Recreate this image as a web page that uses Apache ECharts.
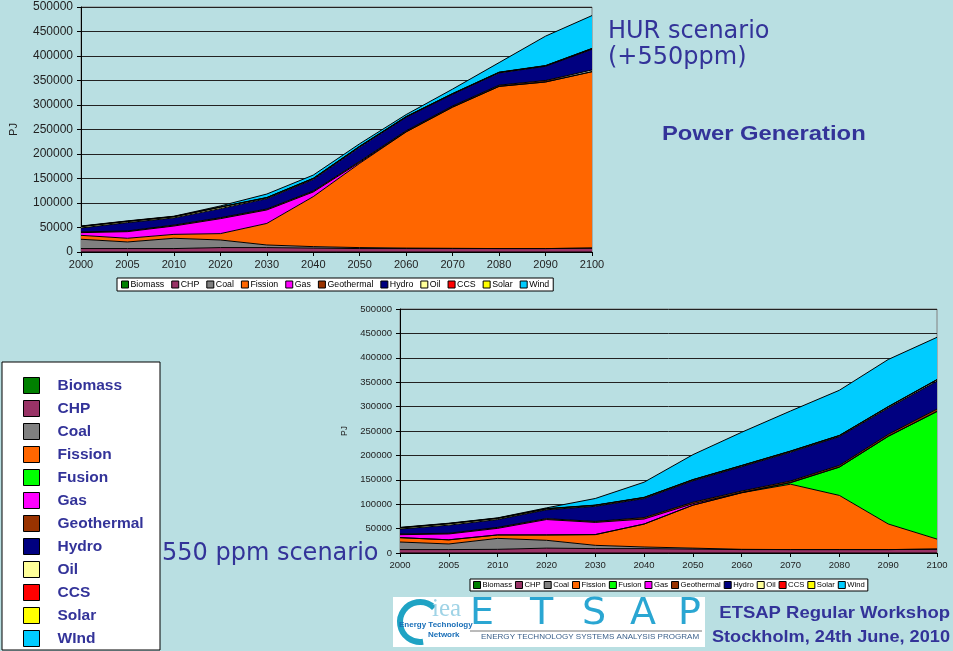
<!DOCTYPE html>
<html>
<head>
<meta charset="utf-8">
<script src="https://cdn.jsdelivr.net/npm/echarts@6/dist/echarts.min.js"></script>
<style>
html,body{margin:0;padding:0;background:#b9dfe2;}
#main{width:953px;height:651px;}
</style>
</head>
<body>
<div id="main"></div>
<script>
// years on both x axes
var years = ['2000','2005','2010','2020','2030','2040','2050','2060','2070','2080','2090','2100'];

// HUR scenario (+550ppm), PJ
var hurBiomass    = [0,0,0,0,0,0,0,0,0,0,0,0];
var hurChp        = [7000,7000,7000,9000,9000,8000,7000,7000,7000,7000,7000,8000];
var hurCoal       = [19000,13500,21000,15500,5300,3000,2000,1000,500,0,0,0];
var hurFission    = [8000,7500,8000,13000,44000,102000,172000,237000,288000,331000,340000,360000];
var hurGas        = [5500,13500,17000,30500,27500,9500,2000,500,500,0,0,0];
var hurGeothermal = [1500,1500,2000,2000,2000,2000,2000,2000,2000,2500,3000,3500];
var hurHydro      = [8000,17000,14500,18500,21000,23500,29000,27500,24000,25000,29000,42000];
var hurOil        = [3000,2500,2500,3000,2000,2000,1500,1000,1000,1000,1000,1500];
var hurCcs        = [0,0,0,0,0,0,0,0,0,0,0,0];
var hurSolar      = [500,500,500,500,500,500,500,500,500,500,500,500];
var hurWind       = [500,500,500,2000,7000,6500,5000,4000,9000,19500,60000,67000];

// 550 ppm scenario, PJ
var ppmBiomass    = [0,0,0,0,0,0,0,0,0,0,0,0];
var ppmChp        = [7000,7000,7500,10000,9000,9000,8000,7000,7000,7000,7000,8000];
var ppmCoal       = [15500,11500,22500,16000,6700,3300,2000,500,0,0,0,0];
var ppmFission    = [9000,8500,7000,11000,22000,47000,88000,116000,134000,111000,52500,20500];
var ppmFusion     = [0,0,0,0,0,0,0,0,3000,58000,179500,261500];
var ppmGas        = [6000,12000,13500,31500,25000,10300,3000,500,500,0,0,0];
var ppmGeothermal = [1500,1500,2000,2000,2000,3000,3000,3000,3000,3500,4000,5000];
var ppmHydro      = [10000,16500,16000,18000,31000,39000,44000,50000,59000,59000,54000,57000];
var ppmOil        = [2500,3000,2500,2000,2000,2000,2000,2000,2000,2000,2500,3000];
var ppmCcs        = [0,0,0,0,0,0,0,0,0,0,0,0];
var ppmSolar      = [500,500,500,500,500,500,500,500,500,500,500,500];
var ppmWind       = [500,500,500,1500,13500,31000,51000,68000,82000,92500,96500,86500];

var colors = {
	'Biomass':'#008000','CHP':'#993366','Coal':'#808080','Fission':'#ff6600','Fusion':'#00ff00',
	'Gas':'#ff00ff','Geothermal':'#993300','Hydro':'#000080','Oil':'#ffff99','CCS':'#ff0000',
	'Solar':'#ffff00','Wind':'#00ccff'
};
var hurNames = ['Biomass','CHP','Coal','Fission','Gas','Geothermal','Hydro','Oil','CCS','Solar','Wind'];
var ppmNames = ['Biomass','CHP','Coal','Fission','Fusion','Gas','Geothermal','Hydro','Oil','CCS','Solar','Wind'];
var hurData = [hurBiomass,hurChp,hurCoal,hurFission,hurGas,hurGeothermal,hurHydro,hurOil,hurCcs,hurSolar,hurWind];
var ppmData = [ppmBiomass,ppmChp,ppmCoal,ppmFission,ppmFusion,ppmGas,ppmGeothermal,ppmHydro,ppmOil,ppmCcs,ppmSolar,ppmWind];

var txtBlue = '#333399';

function area(name, data, idx, stack){
	return {
		name:name, type:'line', xAxisIndex:idx, yAxisIndex:idx, stack:stack,
		data:data, symbol:'none', smooth:false,
		lineStyle:{color:'#000',width:1},
		areaStyle:{color:colors[name],opacity:1},
		itemStyle:{color:colors[name]},
		emphasis:{disabled:true}
	};
}
function legendItems(names){
	return names.map(function(n){
		return {name:n, itemStyle:{color:colors[n],borderColor:'#000',borderWidth:1}};
	});
}

var series = [];
for(var i=0;i<hurNames.length;i++) series.push(area(hurNames[i], hurData[i], 0, 'hur'));
for(var j=0;j<ppmNames.length;j++) series.push(area(ppmNames[j], ppmData[j], 1, 'ppm'));

function xAxis(idx, fs){
	return {
		type:'category', gridIndex:idx, data:years, boundaryGap:false,
		axisLine:{lineStyle:{color:'#000',width:1}},
		axisTick:{show:true,length:4,lineStyle:{color:'#000'}},
		axisLabel:{interval:0,fontSize:fs,color:'#222',fontFamily:'Liberation Sans',margin:7}
	};
}
function yAxis(idx, fs, gap){
	return {
		type:'value', gridIndex:idx, min:0, max:500000, interval:50000,
		name:'PJ', nameLocation:'middle', nameGap:gap, nameRotate:90,
		nameTextStyle:{fontSize:fs-1,color:'#222',fontFamily:'Liberation Sans'},
		axisLine:{show:true,lineStyle:{color:'#000',width:1}},
		axisTick:{show:true,length:4,lineStyle:{color:'#000'}},
		axisLabel:{fontSize:fs,color:'#222',fontFamily:'Liberation Sans',margin:8,
			formatter:function(v){ return String(v); }},
		splitLine:{lineStyle:{color:'#222',width:1}}
	};
}

// ETSAP letters of the logo
var logoLetters = ['E','T','S','A','P'];
var logoX = [470,530,582,630,678];
var logoGraphics = logoLetters.map(function(l, k){
	return {type:'text',x:logoX[k],y:595,style:{text:l,fontSize:38,fontFamily:'DejaVu Sans',fill:'#2aa6d2'}};
});

var myChart = echarts.init(document.getElementById('main'));
var option = {
	animation:false,
	backgroundColor:'#b9dfe2',
	grid:[
		{left:77,right:361,top:7,bottom:399,show:true,borderColor:'#808080',borderWidth:1,backgroundColor:'transparent'},
		{left:400,right:16,top:309,bottom:98,show:true,borderColor:'#808080',borderWidth:1,backgroundColor:'transparent'}
	],
	xAxis:[xAxis(0,11), xAxis(1,9.5)],
	yAxis:[yAxis(0,12,62), yAxis(1,9.5,50)],
	legend:[
		{
			data:legendItems(hurNames), left:117, top:278, icon:'rect', itemWidth:7, itemHeight:7, itemGap:7,
			selectedMode:false, backgroundColor:'#fff', borderColor:'#000', borderWidth:1, padding:[2,4],
			textStyle:{fontSize:8.8,color:'#000',fontFamily:'Liberation Sans',padding:[0,0,0,-3]}
		},
		{
			data:legendItems(ppmNames), left:470, top:579, icon:'rect', itemWidth:7, itemHeight:7, itemGap:3,
			selectedMode:false, backgroundColor:'#fff', borderColor:'#000', borderWidth:1, padding:[2,3],
			textStyle:{fontSize:7.7,color:'#000',fontFamily:'Liberation Sans',padding:[0,0,0,-3]}
		},
		{
			data:legendItems(ppmNames), left:23, top:377, orient:'vertical', icon:'rect',
			itemWidth:16, itemHeight:16, itemGap:6, selectedMode:false, padding:0, height:320,
			formatter:function(n){ return n==='Wind' ? 'WInd' : n; },
			textStyle:{fontSize:15.5,fontWeight:'bold',color:txtBlue,fontFamily:'Liberation Sans',padding:[0,0,0,13]}
		}
	],
	graphic:[
		{type:'rect',z:-1,shape:{x:2,y:362,width:158,height:288},style:{fill:'#fff',stroke:'#000',lineWidth:1}},
		{type:'text',x:608,y:20,style:{text:'HUR scenario',fontSize:24,fontFamily:'DejaVu Sans',fill:txtBlue}},
		{type:'text',x:608,y:46,style:{text:'(+550ppm)',fontSize:24,fontFamily:'DejaVu Sans',fill:txtBlue}},
		{type:'text',x:662,y:124,scaleX:1.19,style:{text:'Power Generation',fontSize:20,fontWeight:'bold',fontFamily:'Liberation Sans',fill:txtBlue}},
		{type:'text',x:162,y:542,style:{text:'550 ppm scenario',fontSize:24,fontFamily:'DejaVu Sans',fill:txtBlue}},
		// logo block
		{type:'rect',shape:{x:393,y:597,width:312,height:50},style:{fill:'#fff'}},
		{type:'arc',shape:{cx:420,cy:622,r:20,startAngle:Math.PI*0.45,endAngle:Math.PI*1.75},style:{stroke:'#1fa3c4',lineWidth:6,fill:'none'}},
		{type:'text',x:432,y:597,style:{text:'iea',fontSize:25,fontFamily:'Liberation Serif',fill:'#9fd3e6'}},
		{type:'text',x:399,y:621,style:{text:'Energy Technology',fontSize:8,fontWeight:'bold',fontFamily:'Liberation Sans',fill:'#1a6fb8'}},
		{type:'text',x:428,y:631,style:{text:'Network',fontSize:8,fontWeight:'bold',fontFamily:'Liberation Sans',fill:'#1a6fb8'}},
		{type:'line',shape:{x1:470,y1:631,x2:702,y2:631},style:{stroke:'#777',lineWidth:1}},
		{type:'text',x:481,y:634,scaleX:1.15,style:{text:'ENERGY TECHNOLOGY SYSTEMS ANALYSIS PROGRAM',fontSize:7,fontFamily:'Liberation Sans',fill:'#3a5f8a'}},
		{type:'text',x:950,y:605,scaleX:1.12,style:{text:'ETSAP Regular Workshop',fontSize:16.5,fontWeight:'bold',fontFamily:'Liberation Sans',fill:txtBlue,align:'right'}},
		{type:'text',x:950,y:629,scaleX:1.1,style:{text:'Stockholm, 24th June, 2010',fontSize:16.5,fontWeight:'bold',fontFamily:'Liberation Sans',fill:txtBlue,align:'right'}}
	].concat(logoGraphics),
	series:series
};
myChart.setOption(option);
</script>
</body>
</html>
